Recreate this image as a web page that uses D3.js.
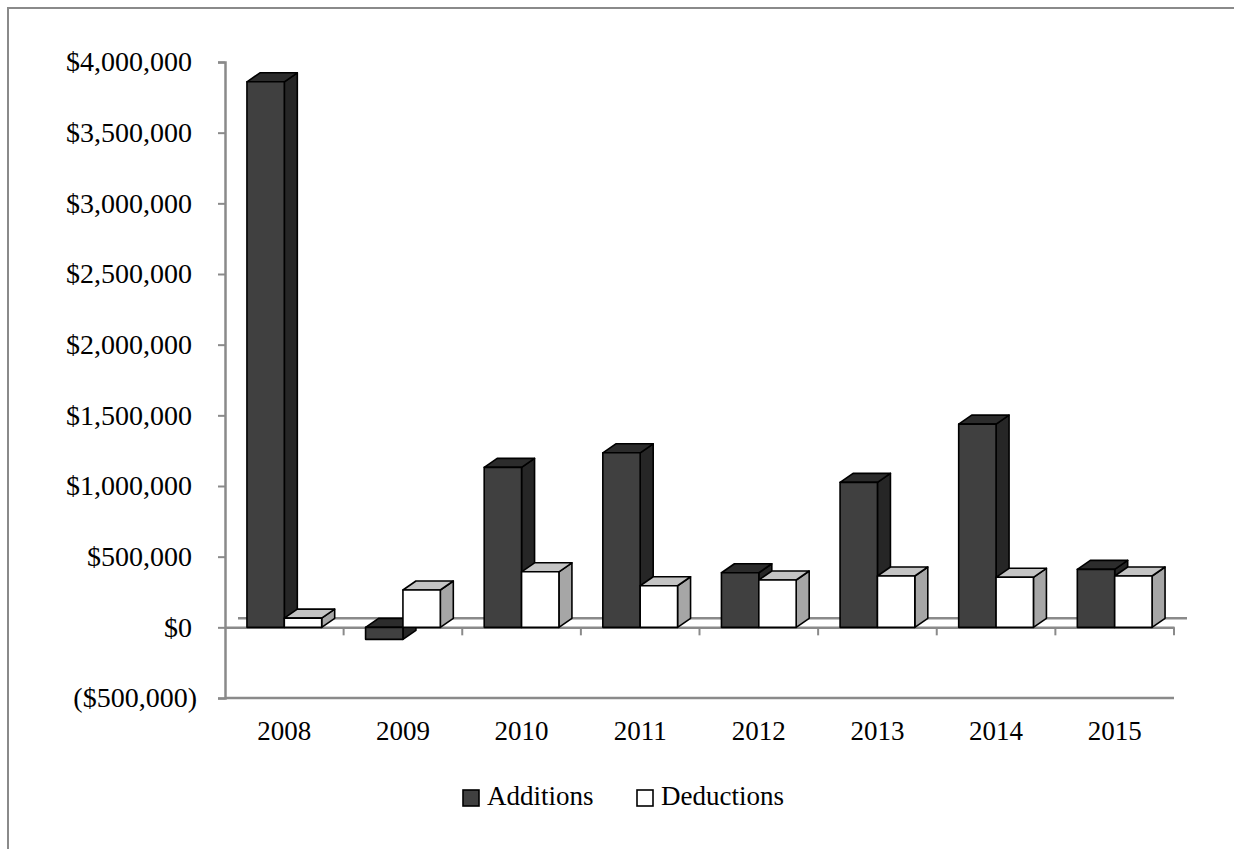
<!DOCTYPE html>
<html>
<head>
<meta charset="utf-8">
<script src="https://cdn.jsdelivr.net/npm/d3@7"></script>
<style>
  body { margin: 0; background: #fff; }
  text { font-family: "Liberation Serif", "DejaVu Serif", serif; fill: #000; }
</style>
</head>
<body>
<div id="chart"></div>
<script>
var years = ["2008", "2009", "2010", "2011", "2012", "2013", "2014", "2015"];
var additions = [3860000, -85000, 1132000, 1235000, 386000, 1026000, 1438000, 410000];
var deductions = [65000, 264000, 393000, 294000, 335000, 363000, 354000, 363000];
var seriesNames = ["Additions", "Deductions"];
var yTicks = [-500000, 0, 500000, 1000000, 1500000, 2000000, 2500000, 3000000, 3500000, 4000000];

var W = 1234, H = 849;
var depthX = 13, depthY = 9;
var colors = {
  Additions: {front: "#404040", top: "#2c2c2c", side: "#262626"},
  Deductions: {front: "#ffffff", top: "#c4c4c4", side: "#a6a6a6"}
};

var svg = d3.select("#chart").append("svg").attr("width", W).attr("height", H);

// outer frame (only left and top visible)
svg.append("path").attr("d", `M8,${H} L8,8 L${W},8`).attr("fill", "none").attr("stroke", "#8a8a8a").attr("stroke-width", 2);

var x0 = d3.scaleBand().domain(years).range([225, 1174]);
var x1 = d3.scaleBand().domain(seriesNames).range([x0.bandwidth() * 0.185, x0.bandwidth() * 0.815]);
var y = d3.scaleLinear().domain([-500000, 4000000]).range([698, 62]);

var fmt = function(v) {
  var s = "$" + d3.format(",")(Math.abs(v));
  return v < 0 ? "(" + s + ")" : s;
};

// back floor line
svg.append("line").attr("x1", 225 + depthX).attr("x2", 1174 + depthX).attr("y1", y(0) - depthY).attr("y2", y(0) - depthY).attr("stroke", "#8a8a8a").attr("stroke-width", 2.5);

// y axis
var yAxis = svg.append("g").attr("transform", "translate(225,0)").call(d3.axisLeft(y).tickValues(yTicks).tickFormat(fmt).tickSize(7).tickPadding(26));
yAxis.select(".domain").attr("stroke", "#8a8a8a").attr("stroke-width", 2.5);
yAxis.selectAll(".tick line").attr("stroke", "#8a8a8a").attr("stroke-width", 2);
yAxis.selectAll(".tick text").attr("font-size", 28).attr("dx", d => d < 0 ? 5 : 0);

// bottom floor line
svg.append("line").attr("x1", 225).attr("x2", 1174).attr("y1", y(-500000)).attr("y2", y(-500000)).attr("stroke", "#8a8a8a").attr("stroke-width", 2.5);

// x axis at zero
var xAxis = svg.append("g").attr("transform", `translate(0,${y(0)})`).call(d3.axisBottom(x0).tickSize(0).tickFormat(""));
xAxis.select(".domain").attr("stroke", "#8a8a8a").attr("stroke-width", 2.5);
xAxis.selectAll(".tick").remove();
var bounds = years.map(d => x0(d) + x0.bandwidth()).concat([x0(years[0])]);
svg.append("g").selectAll("line").data(bounds.slice(0, -1)).join("line")
  .attr("x1", d => d).attr("x2", d => d).attr("y1", y(0)).attr("y2", y(0) + 8)
  .attr("stroke", "#8a8a8a").attr("stroke-width", 2);

svg.append("g").selectAll("text").data(years).join("text")
  .attr("x", d => x0(d) + x0.bandwidth() / 2).attr("y", 740)
  .attr("text-anchor", "middle").attr("font-size", 27).text(d => d);

// 3D bars
var rows = years.map((yr, i) => ({year: yr, values: [{key: "Additions", v: additions[i]}, {key: "Deductions", v: deductions[i]}]}));
var bw = x1.bandwidth();

var groups = svg.append("g").selectAll("g").data(rows).join("g").attr("transform", d => `translate(${x0(d.year)},0)`);
var bars = groups.selectAll("g").data(d => d.values).join("g").attr("transform", d => `translate(${x1(d.key)},0)`);

bars.each(function(d) {
  var g = d3.select(this);
  var yTop = Math.min(y(d.v), y(0)), yBot = Math.max(y(d.v), y(0));
  var c = colors[d.key];
  var st = {stroke: "#000", "stroke-width": 1.6, "stroke-linejoin": "round"};
  var side = g.append("path").attr("d", `M${bw},${yTop} L${bw + depthX},${yTop - depthY} L${bw + depthX},${yBot - depthY} L${bw},${yBot} Z`).attr("fill", c.side);
  var top = g.append("path").attr("d", `M0,${yTop} L${depthX},${yTop - depthY} L${bw + depthX},${yTop - depthY} L${bw},${yTop} Z`).attr("fill", c.top);
  var front = g.append("rect").attr("x", 0).attr("y", yTop).attr("width", bw).attr("height", yBot - yTop).attr("fill", c.front);
  [side, top, front].forEach(p => { for (var k in st) p.attr(k, st[k]); });
});

// legend
var legX = [463, 637];
var leg = svg.append("g").selectAll("g").data(seriesNames).join("g").attr("transform", (d, i) => `translate(${legX[i]},790)`);
leg.append("rect").attr("width", 16).attr("height", 16).attr("fill", d => colors[d].front).attr("stroke", "#000").attr("stroke-width", 1.6);
leg.append("text").attr("x", 24).attr("y", 15).attr("font-size", 27).text(d => d);
</script>
</body>
</html>
